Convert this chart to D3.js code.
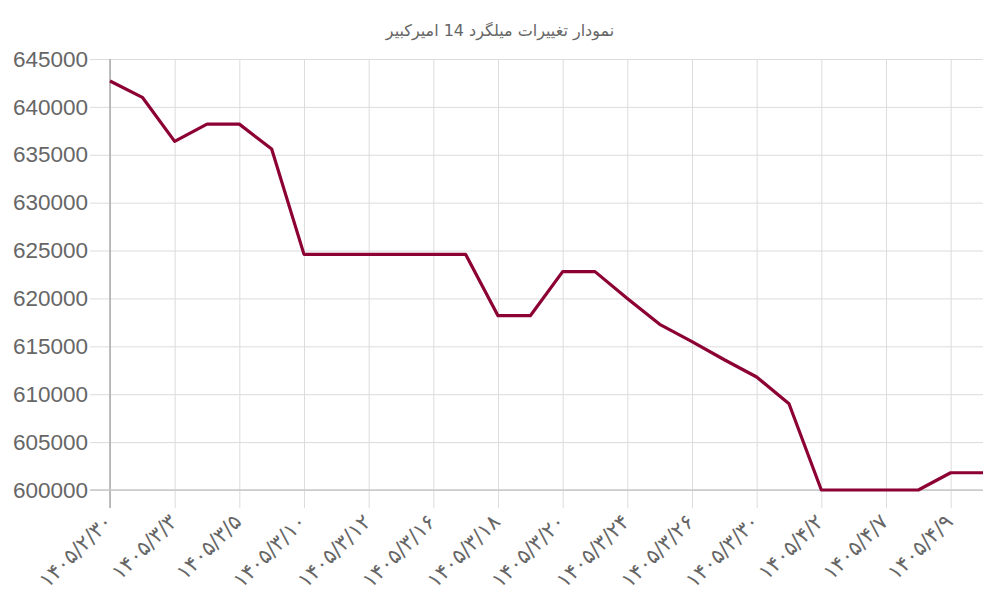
<!DOCTYPE html>
<html>
<head>
<meta charset="utf-8">
<script src="https://cdn.jsdelivr.net/npm/d3@7"></script>
<style>
  body { margin: 0; background: #fff; }
  svg { display: block; }
</style>
</head>
<body>
<div id="chart"></div>
<script>
// dates (shamsi) and prices for rebar 14 amirkabir
const dates = [
  "۱۴۰۵/۲/۳۰", "۱۴۰۵/۳/۱", "۱۴۰۵/۳/۳", "۱۴۰۵/۳/۴", "۱۴۰۵/۳/۵", "۱۴۰۵/۳/۶",
  "۱۴۰۵/۳/۱۰", "۱۴۰۵/۳/۱۱", "۱۴۰۵/۳/۱۲", "۱۴۰۵/۳/۱۳", "۱۴۰۵/۳/۱۶", "۱۴۰۵/۳/۱۷",
  "۱۴۰۵/۳/۱۸", "۱۴۰۵/۳/۱۹", "۱۴۰۵/۳/۲۰", "۱۴۰۵/۳/۲۳", "۱۴۰۵/۳/۲۴", "۱۴۰۵/۳/۲۵",
  "۱۴۰۵/۳/۲۶", "۱۴۰۵/۳/۲۷", "۱۴۰۵/۳/۳۰", "۱۴۰۵/۳/۳۱", "۱۴۰۵/۴/۲", "۱۴۰۵/۴/۳",
  "۱۴۰۵/۴/۷", "۱۴۰۵/۴/۸", "۱۴۰۵/۴/۹", "۱۴۰۵/۴/۱۰"
];
const prices = [
  642700, 641000, 636400, 638200, 638200, 635600,
  624600, 624600, 624600, 624600, 624600, 624600,
  618200, 618200, 622800, 622800, 620000, 617300,
  615500, 613600, 611800, 609000, 600000, 600000,
  600000, 600000, 601800, 601800
];
const yTicks = [600000, 605000, 610000, 615000, 620000, 625000, 630000, 635000, 640000, 645000];
const title = "نمودار تغییرات میلگرد 14 امیرکبیر";

const width = 1000, height = 600;
const margin = { top: 59, right: 17, bottom: 110, left: 110 };

const svg = d3.select("#chart")
  .append("svg")
  .attr("width", width)
  .attr("height", height)
  .style("font-family", "'Liberation Sans', Arial, sans-serif");

const x = d3.scalePoint()
  .domain(dates)
  .range([margin.left, width - margin.right]);

const y = d3.scaleLinear()
  .domain([600000, 645000])
  .range([height - margin.bottom, margin.top]);

// title
svg.append("text")
  .attr("x", 500)
  .attr("y", 36)
  .attr("text-anchor", "middle")
  .attr("font-size", 16)
  .attr("font-family", "'DejaVu Sans', sans-serif")
  .attr("fill", "#666")
  .text(title);

// horizontal grid + y labels
const yAxis = svg.append("g")
  .attr("transform", `translate(${margin.left},0)`)
  .call(d3.axisLeft(y).tickValues(yTicks).tickFormat(d3.format("d"))
    .tickSize(-(width - margin.left - margin.right)).tickSizeOuter(0).tickPadding(22));
yAxis.select(".domain").remove();
yAxis.selectAll(".tick line")
  .attr("stroke", "#dcdcdc")
  .attr("x1", -20);
yAxis.selectAll(".tick text")
  .attr("font-size", 22.5)
  .attr("fill", "#666");

// vertical grid + x labels (every other date shown)
const shown = dates.filter((d, i) => i % 2 === 0);
const xAxis = svg.append("g")
  .attr("transform", `translate(0,${height - margin.bottom})`)
  .call(d3.axisBottom(x).tickValues(shown)
    .tickSize(-(height - margin.top - margin.bottom)).tickSizeOuter(0));
xAxis.select(".domain").remove();
xAxis.selectAll(".tick line")
  .attr("stroke", "#dcdcdc")
  .attr("y1", 18);
xAxis.selectAll(".tick text")
  .attr("font-size", 21)
  .attr("font-family", "'DejaVu Sans', sans-serif")
  .attr("fill", "#666")
  .attr("text-anchor", "end")
  .attr("dy", null)
  .attr("y", 0)
  .attr("transform", "translate(3,33) rotate(-45)");

// axis lines
svg.append("line")
  .attr("x1", margin.left).attr("x2", margin.left)
  .attr("y1", margin.top).attr("y2", height - margin.bottom + 18)
  .attr("stroke", "#aaa").attr("stroke-width", 1.5);
svg.append("line")
  .attr("x1", margin.left - 20).attr("x2", width - margin.right)
  .attr("y1", y(600000)).attr("y2", y(600000))
  .attr("stroke", "#c8c8c8").attr("stroke-width", 1.5);

// price line
const line = d3.line()
  .x((d, i) => x(dates[i]))
  .y(d => y(d));

svg.append("path")
  .datum(prices)
  .attr("fill", "none")
  .attr("stroke", "#8c0033")
  .attr("stroke-width", 3.2)
  .attr("stroke-linejoin", "round")
  .attr("d", line);
</script>
</body>
</html>
